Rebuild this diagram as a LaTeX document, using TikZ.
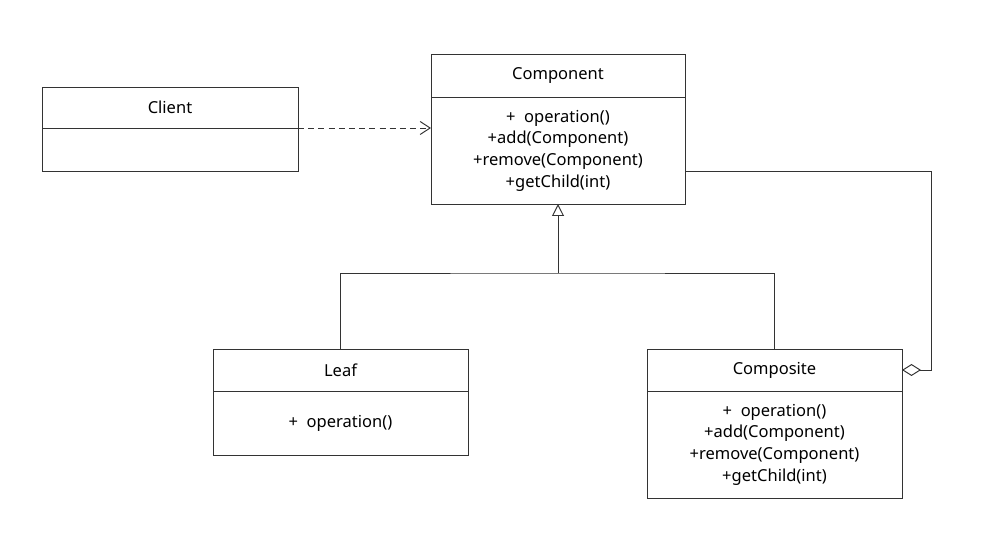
\documentclass[tikz,border=0pt]{standalone}
\usepackage{fontspec}
\setmainfont{Noto Sans}
\usepackage{tikz}
\usetikzlibrary{positioning,arrows.meta}

\begin{document}
\begin{tikzpicture}[
    line width=0.55pt,
    draw=black!80,
    node distance=0pt,
    every node/.style={font=\fontsize{9.4}{12.3}\selectfont, text=black},
    umlhead/.style={draw=black!80, outer sep=0pt, minimum width=5.1cm, minimum height=0.84cm, inner sep=0pt},
    umlbody/.style={draw=black!80, outer sep=0pt, minimum width=5.1cm, inner sep=0pt, align=center},
    uses/.style={dash pattern=on 3.4pt off 2.4pt, -{Straight Barb[length=0.2cm,width=0.26cm]}},
    inherits/.style={-{Triangle[open,length=0.24cm,width=0.24cm]}},
    aggregates/.style={{Diamond[open,length=0.38cm,width=0.24cm]}-}
]
    \useasboundingbox (0,0) rectangle (20.16,-10.78);

    \node[umlhead, minimum width=5.12cm, minimum height=0.82cm] (client) at (3.4,-2.15) {Client};
    \node[umlbody, minimum width=5.12cm, minimum height=0.86cm, below=of client] (clientbody) {};

    \node[umlhead, minimum width=5.08cm, minimum height=0.86cm] (comp) at (11.16,-1.51) {Component};
    \node[umlbody, minimum width=5.08cm, minimum height=2.14cm, below=of comp] (compbody)
        {+\ \ operation()\\+add(Component)\\+remove(Component)\\+getChild(int)};

    \node[umlhead] (leaf) at (6.81,-7.4) {Leaf};
    \node[umlbody, minimum height=1.28cm, below=of leaf] (leafbody) {+\ \ operation()};

    \node[umlhead] (composite) at (15.49,-7.4) {Composite};
    \node[umlbody, minimum height=2.14cm, below=of composite] (compositebody)
        {+\ \ operation()\\+add(Component)\\+remove(Component)\\+getChild(int)};

    \coordinate (split) at (11.16,-5.46);
    \coordinate (corner) at (18.62,-3.42);

    \draw[draw=black!80, uses] (client.south east) -- (client.south east -| compbody.west);
    \draw[draw=black!80] (leaf.north) |- (split) -| (composite.north);
    \draw[draw=black!80, inherits] (split) -- (compbody.south);
    \draw[draw=black!80, aggregates] (composite.east) -| (corner) -- (corner -| compbody.east);
\end{tikzpicture}
\end{document}
